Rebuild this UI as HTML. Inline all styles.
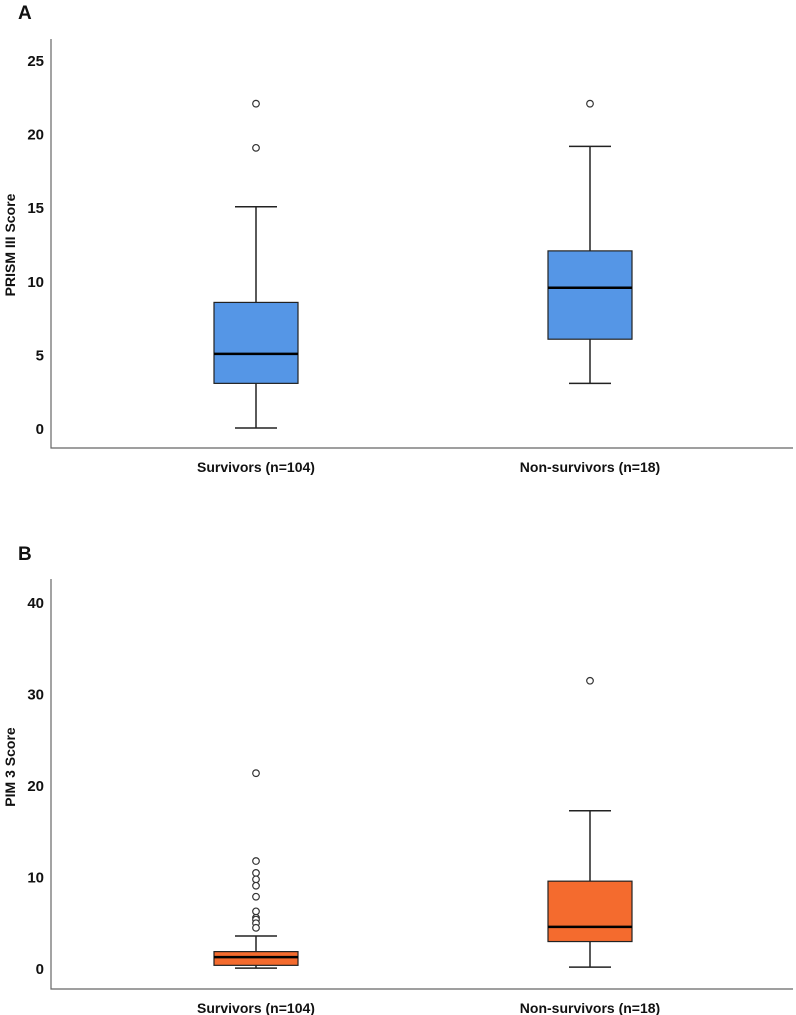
<!DOCTYPE html>
<html><head><meta charset="utf-8"><style>
html,body{margin:0;padding:0;background:#fff;}
svg{display:block;font-family:"Liberation Sans",Arial,sans-serif;}
</style></head><body>
<svg id="fig" width="796" height="1015" viewBox="0 0 796 1015"></svg>
<script>
const categories = ["Survivors (n=104)", "Non-survivors (n=18)"];
// Panel A: PRISM III
const aMin = [0.07, 3.1];
const aQ1 = [3.1, 6.1];
const aMed = [5.1, 9.6];
const aQ3 = [8.6, 12.1];
const aMax = [15.1, 19.2];
const aOut = [[19.1, 22.1], [22.1]];
const aTicks = [0, 5, 10, 15, 20, 25];
// Panel B: PIM 3
const bMin = [0.1, 0.2];
const bQ1 = [0.4, 3.0];
const bMed = [1.3, 4.6];
const bQ3 = [1.9, 9.6];
const bMax = [3.6, 17.3];
const bOut = [[21.4, 11.8, 10.5, 9.8, 9.1, 7.9, 6.3, 5.6, 5.4, 5.0, 4.5], [31.5]];
const bTicks = [0, 10, 20, 30, 40];

const NS = "http://www.w3.org/2000/svg";
const svg = document.getElementById("fig");
function mk(tag, attrs, parent) {
  const e = document.createElementNS(NS, tag);
  for (const k in attrs) e.setAttribute(k, attrs[k]);
  (parent || svg).appendChild(e);
  return e;
}
const xCenters = [256, 590];
const boxHalf = 42, capHalf = 21;

function panel(opt) {
  const g = mk("g", {});
  
  
  const y = v => opt.y0 - (v - 0) * opt.scale;
  const lt = mk("text", {x: 18, y: opt.letterY, "font-size": 19, "font-weight": "bold", fill: "#111"}, g);
  lt.textContent = opt.letter;
  
  
  const ax = mk("path", {d: `M51 ${opt.top} V${opt.bottom} H793`, stroke: "#666", "stroke-width": 1.2, fill: "none"}, g);
  
  
  opt.ticks.forEach(t => {
    const tx = mk("text", {x: 44, y: y(t) + 5, "text-anchor": "end", "font-size": 15, "font-weight": "bold", fill: "#111"}, g);
    tx.textContent = t;
    
    
  });
  const yt = mk("text", {x: 0, y: 0, transform: `translate(15 ${opt.titleY}) rotate(-90)`, "text-anchor": "middle", "font-size": 14, "font-weight": "bold", fill: "#111"}, g);
  yt.textContent = opt.title;
  
  
  categories.forEach((c, i) => {
    const cx = xCenters[i];
    const xl = mk("text", {x: cx, y: opt.bottom + 24, "text-anchor": "middle", "font-size": 14, "font-weight": "bold", fill: "#111"}, g);
    xl.textContent = c;
    
    
    const bg = mk("g", {}, g);
    
    
    mk("line", {x1: cx, x2: cx, y1: y(opt.max[i]), y2: y(opt.q3[i]), stroke: "#222", "stroke-width": 1.5}, bg);
    mk("line", {x1: cx, x2: cx, y1: y(opt.q1[i]), y2: y(opt.min[i]), stroke: "#222", "stroke-width": 1.5}, bg);
    mk("line", {x1: cx - capHalf, x2: cx + capHalf, y1: y(opt.max[i]), y2: y(opt.max[i]), stroke: "#222", "stroke-width": 1.5}, bg);
    mk("line", {x1: cx - capHalf, x2: cx + capHalf, y1: y(opt.min[i]), y2: y(opt.min[i]), stroke: "#222", "stroke-width": 1.5}, bg);
    mk("rect", {x: cx - boxHalf, y: y(opt.q3[i]), width: boxHalf * 2, height: y(opt.q1[i]) - y(opt.q3[i]), fill: opt.color, stroke: "#222", "stroke-width": 1.2}, bg);
    mk("line", {x1: cx - boxHalf, x2: cx + boxHalf, y1: y(opt.med[i]), y2: y(opt.med[i]), stroke: "#000", "stroke-width": 2.5}, bg);
    opt.out[i].forEach(v => {
      const o = mk("circle", {cx: cx, cy: y(v), r: 3.3, fill: "#fff", stroke: "#333", "stroke-width": 1.2}, bg);
      
      
    });
  });
}
panel({name: "panel-a-prism", letter: "A", letterY: 19, top: 39, bottom: 448, y0: 429, scale: 14.72,
  ticks: aTicks, title: "PRISM III Score", titleY: 245, color: "#5596e6",
  min: aMin, q1: aQ1, med: aMed, q3: aQ3, max: aMax, out: aOut});
panel({name: "panel-b-pim3", letter: "B", letterY: 560, top: 579, bottom: 989, y0: 969, scale: 9.15,
  ticks: bTicks, title: "PIM 3 Score", titleY: 767, color: "#f46b2e",
  min: bMin, q1: bQ1, med: bMed, q3: bQ3, max: bMax, out: bOut});
</script>
</body></html>
